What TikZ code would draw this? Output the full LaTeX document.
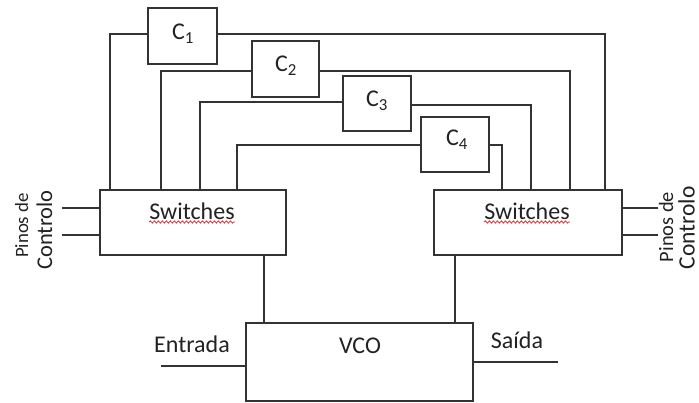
\documentclass[tikz,border=0pt]{standalone}
\usepackage{fontspec}
\setmainfont{Carlito}
\usetikzlibrary{decorations.pathmorphing}
\definecolor{wire}{HTML}{333333}
\definecolor{ink}{HTML}{222222}
\definecolor{squiggle}{HTML}{E8252B}
\begin{document}
\begin{tikzpicture}[x=1pt,y=-1pt,
  box/.style={draw=wire, line width=1.6pt, rectangle, inner sep=0pt},
  wireline/.style={draw=wire, line width=1.6pt},
  lbl/.style={text=ink, inner sep=0pt, anchor=base, font=\fontsize{24}{28}\selectfont},
  pinsmall/.style={text=ink, inner sep=0pt, anchor=base, rotate=90},
  spell/.style={draw=squiggle, line width=0.8pt, decorate,
    decoration={snake, amplitude=1.1pt, segment length=4pt}}]
\useasboundingbox (0,0) rectangle (699,403);
\fill[white] (0,0) rectangle (699,403);

% capacitor boxes
\node[box, minimum width=69pt, minimum height=56pt] (C1) at (182.5,36) {};
\node[box, minimum width=67pt, minimum height=56pt] (C2) at (285.5,69) {};
\node[box, minimum width=68pt, minimum height=55pt] (C3) at (377,103.5) {};
\node[box, minimum width=68pt, minimum height=55pt] (C4) at (455,144.5) {};
\node[lbl] (C1t) at (183,40) {C\textsubscript{1}};
\node[lbl] (C2t) at (286,72) {C\textsubscript{2}};
\node[lbl] (C3t) at (377,107) {C\textsubscript{3}};
\node[lbl] (C4t) at (457,146) {C\textsubscript{4}};

% switch banks and oscillator
\node[box, minimum width=186pt, minimum height=65pt] (SL) at (193,222.5) {};
\node[box, minimum width=188pt, minimum height=65pt] (SR) at (528,222.5) {};
\node[box, minimum width=227pt, minimum height=78pt] (VCO) at (359.5,362) {};
\node[lbl] (SLt) at (192,220) {Switches};
\node[lbl] (SRt) at (527,220) {Switches};
\node[lbl] (VCOt) at (360,354) {VCO};
\node[lbl] (in t) at (192,352.5) {Entrada};
\node[lbl] (outt) at (517,348.5) {Saída};

% spell-check underlines
\draw[spell] ([yshift=-2pt]SLt.base west) -- ([yshift=-2pt]SLt.base east);
\draw[spell] ([yshift=-2pt]SRt.base west) -- ([yshift=-2pt]SRt.base east);

% capacitor wiring
\draw[wireline] ([yshift=2pt]C1.west) -| ([xshift=11pt]SL.north west);
\draw[wireline] ([yshift=2pt]C1.east) -| ([xshift=172pt]SR.north west);
\draw[wireline] ([yshift=-2pt]C2.west) -| ([xshift=62pt]SL.north west);
\draw[wireline] ([yshift=-2pt]C2.east) -| ([xshift=137pt]SR.north west);
\draw[wireline] ([yshift=1.5pt]C3.west) -| ([xshift=101pt]SL.north west);
\draw[wireline] ([yshift=-1.5pt]C3.east) -| ([xshift=98pt]SR.north west);
\draw[wireline] ([yshift=-0.5pt]C4.west) -| ([xshift=138pt]SL.north west);
\draw[wireline] ([yshift=-0.5pt]C4.east) -| ([xshift=68.5pt]SR.north west);

% switches to oscillator
\draw[wireline] ([xshift=165pt]SL.south west) -- ([xshift=19pt]VCO.north west);
\draw[wireline] ([xshift=22pt]SR.south west) -- ([xshift=210pt]VCO.north west);

% control pins
\coordinate (pl1) at (62,208);
\coordinate (pl2) at (62,235);
\coordinate (pr1) at (658,208);
\coordinate (pr2) at (658,235);
\draw[wireline] (pl1) -- (pl1 -| SL.west);
\draw[wireline] (pl2) -- (pl2 -| SL.west);
\draw[wireline] (SR.east |- pr1) -- (pr1);
\draw[wireline] (SR.east |- pr2) -- (pr2);
\node[pinsmall, font=\fontsize{18.8}{20}\selectfont] (pinL1) at (28,225.5) {Pinos de};
\node[pinsmall, font=\fontsize{22.5}{24}\selectfont] (pinL2) at (52,230) {Controlo};
\node[pinsmall, font=\fontsize{20.4}{22}\selectfont] (pinR1) at (673,227) {Pinos de};
\node[pinsmall, font=\fontsize{23.5}{26}\selectfont] (pinR2) at (694.5,228) {Controlo};

% input and output
\coordinate (inp) at (161,366);
\coordinate (outp) at (558,362);
\draw[wireline] (inp) -- (inp -| VCO.west);
\draw[wireline] (VCO.east |- outp) -- (outp);
\end{tikzpicture}
\end{document}
